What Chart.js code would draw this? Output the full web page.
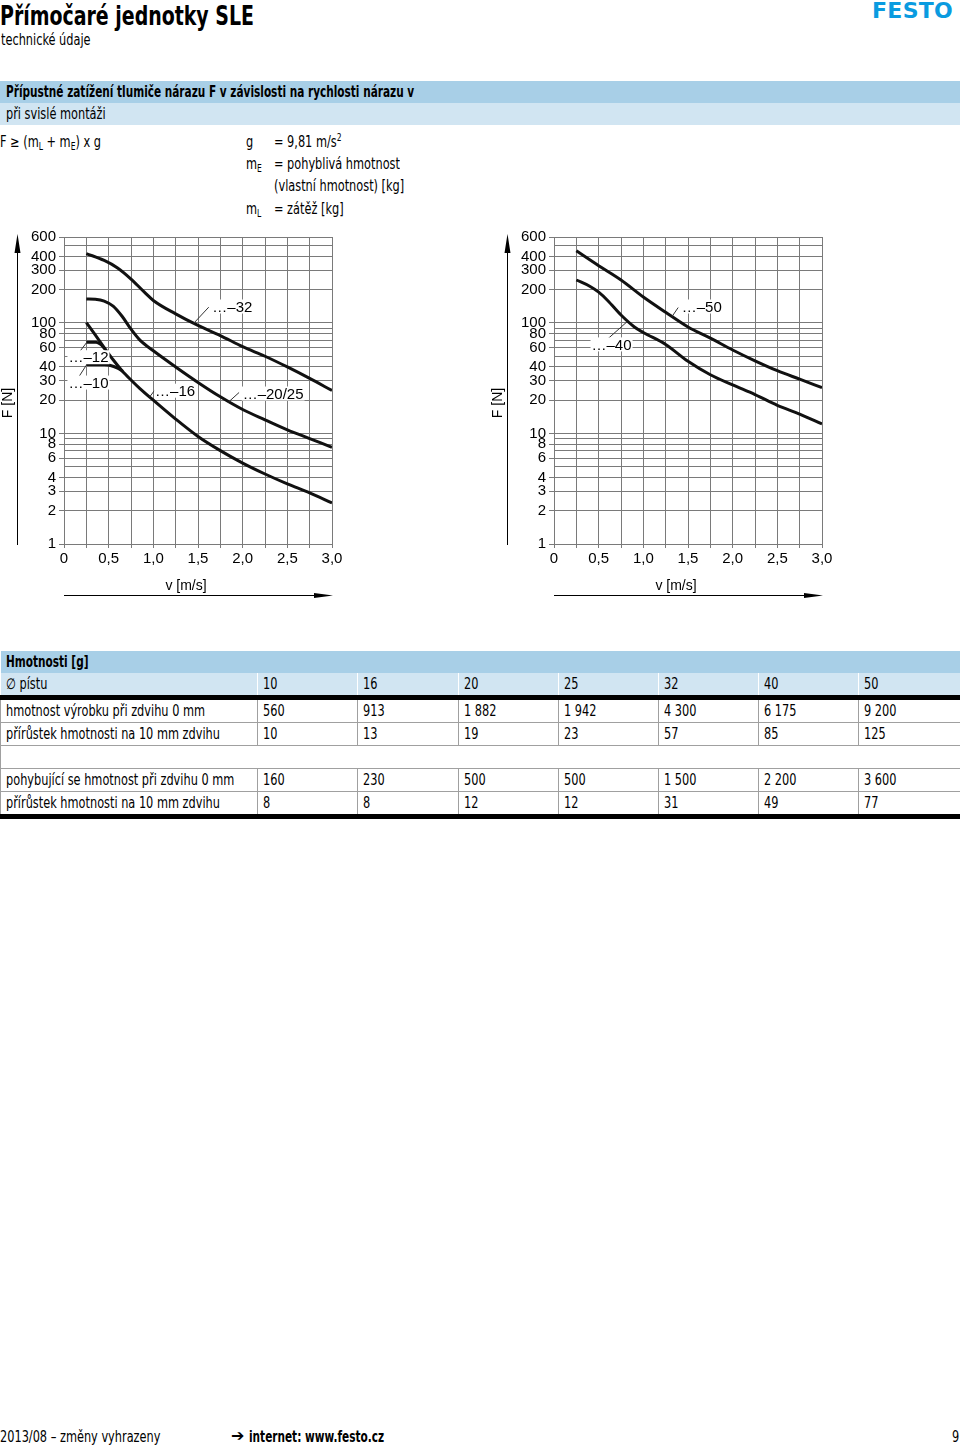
<!DOCTYPE html>
<html lang="cs">
<head>
<meta charset="utf-8">
<title>Přímočaré jednotky SLE</title>
<script src="https://cdn.jsdelivr.net/npm/chart.js@4"></script>
<style>
  html, body { margin: 0; padding: 0; background: #fff; }
  body {
    position: relative;
    width: 960px;
    height: 1447px;
    overflow: hidden;
    font-family: "DejaVu Sans Condensed", "DejaVu Sans", sans-serif;
    color: #000;
  }
  .abs { position: absolute; white-space: nowrap; }
  /* the original face is a condensed one, so squeeze the text horizontally */
  .cond { display: inline-block; transform: scaleX(0.84); transform-origin: 0 50%; white-space: nowrap; }
  .condb { display: inline-block; transform: scaleX(0.78); transform-origin: 0 50%; white-space: nowrap; }
  .title { left: 0; top: 0; font-size: 27px; font-weight: bold; }
  .subtitle { left: 1px; top: 31px; font-size: 15px; }
  .logo {
    left: 872px; top: -2px; font-family: "DejaVu Sans", sans-serif;
    font-size: 22px; font-weight: bold; color: #0a9be0; letter-spacing: 0.3px;
  }
  .bar { left: 0; width: 960px; height: 22px; line-height: 22px; padding-left: 6px; box-sizing: border-box; font-size: 15px; }
  .bar.dark { background: #a8cfe7; font-weight: bold; }
  .bar.light { background: #d1e5f2; }
  .txt { font-size: 15px; line-height: 22px; }
  sub { font-size: 10px; vertical-align: -3px; line-height: 0; }
  sup { font-size: 10px; vertical-align: 6px; line-height: 0; }
  .chartbox { position: absolute; top: 225px; width: 350px; height: 385px; }
  table.mass {
    position: absolute; left: 0; top: 651px; width: 960px;
    border-collapse: collapse; table-layout: fixed; font-size: 15px;
  }
  table.mass td {
    height: 22px; padding: 0 0 0 5px; line-height: 21px;
    border-left: 1px solid #a0a0a0; border-bottom: 1px solid #a0a0a0;
    white-space: nowrap; overflow: hidden;
  }
  table.mass tr.head td { background: #a8cfe7; font-weight: bold; border-left: none; border-bottom: none; }
  table.mass tr.dia td { background: #d1e5f2; border-bottom: 5px solid #000; border-left: 1px solid #fff; }
  table.mass tr.last td { border-bottom: 5px solid #000; }
  table.mass td:first-child { border-left: 1px solid #a0a0a0; }
  .foot { top: 1428px; font-size: 15px; }
  .arrow { top: 1426px; left: 231px; font-family: "DejaVu Sans", sans-serif; font-size: 16px; font-weight: bold; }
</style>
</head>
<body>

<div class="abs title"><span class="condb">Přímočaré jednotky SLE</span></div>
<div class="abs subtitle"><span class="cond">technické údaje</span></div>
<div class="abs logo">FESTO</div>

<div class="abs bar dark" style="top:81px;"><span class="condb">Přípustné zatížení tlumiče nárazu F v závislosti na rychlosti nárazu v</span></div>
<div class="abs bar light" style="top:103px;"><span class="cond">při svislé montáži</span></div>

<div class="abs txt" style="left:0; top:131px;"><span class="cond">F ≥ (m<sub>L</sub> + m<sub>E</sub>) x g</span></div>
<div class="abs txt" style="left:246px; top:131px;"><span class="cond">g</span></div>
<div class="abs txt" style="left:274px; top:131px;"><span class="cond">= 9,81 m/s<sup>2</sup></span></div>
<div class="abs txt" style="left:246px; top:153px;"><span class="cond">m<sub>E</sub></span></div>
<div class="abs txt" style="left:274px; top:153px;"><span class="cond">= pohyblivá hmotnost</span></div>
<div class="abs txt" style="left:274px; top:175px;"><span class="cond">(vlastní hmotnost) [kg]</span></div>
<div class="abs txt" style="left:246px; top:198px;"><span class="cond">m<sub>L</sub></span></div>
<div class="abs txt" style="left:274px; top:198px;"><span class="cond">= zátěž [kg]</span></div>

<div class="chartbox" style="left:0;"><canvas id="chartLeft" width="350" height="385"></canvas></div>
<div class="chartbox" style="left:490px;"><canvas id="chartRight" width="350" height="385"></canvas></div>

<table class="mass" id="massTable">
  <colgroup>
    <col style="width:257px"><col style="width:100px"><col style="width:101px"><col style="width:100px">
    <col style="width:100px"><col style="width:100px"><col style="width:100px"><col style="width:102px">
  </colgroup>
  <tbody></tbody>
</table>

<div class="abs foot" style="left:0;"><span class="cond">2013/08 – změny vyhrazeny</span></div>
<div class="abs arrow">➔</div>
<div class="abs foot" style="left:249px; font-weight:bold;"><span class="condb">internet: www.festo.cz</span></div>
<div class="abs foot" style="left:952px;"><span class="cond">9</span></div>

<script>
// --- chart data: v [m/s] and F [N] per piston size ---
const v10 = [0.25, 0.45, 0.53, 0.60, 0.66];
const f10 = [42, 42, 41, 39, 36.5];
const v12 = [0.25, 0.36, 0.41, 0.46];
const f12 = [67, 67, 64, 58];
const v16 = [0.25, 0.35, 0.45, 0.55, 0.65, 0.75, 0.85, 1.0, 1.25, 1.5, 1.75, 2.0, 2.25, 2.5, 2.75, 3.0];
const f16 = [101, 78, 60, 46.5, 37, 30.5, 25.5, 20, 13.5, 9.4, 7.0, 5.4, 4.3, 3.5, 2.9, 2.35];
const v2025 = [0.25, 0.35, 0.45, 0.55, 0.65, 0.75, 0.85, 1.0, 1.25, 1.5, 1.75, 2.0, 2.25, 2.5, 2.75, 3.0];
const f2025 = [165, 164, 158, 142, 115, 88, 70, 56, 40, 29, 21.5, 16.5, 13.3, 10.8, 9.0, 7.5];
const v32 = [0.25, 0.45, 0.6, 0.75, 0.9, 1.0, 1.25, 1.5, 1.75, 2.0, 2.25, 2.5, 2.75, 3.0];
const f32 = [425, 368, 315, 250, 190, 160, 121, 95, 77, 61, 50, 40, 31.5, 24.5];
const v40 = [0.25, 0.4, 0.5, 0.6, 0.75, 0.9, 1.0, 1.25, 1.5, 1.75, 2.0, 2.25, 2.5, 2.75, 3.0];
const f40 = [245, 215, 190, 160, 118, 92, 82, 64, 45, 34, 27.5, 22.5, 18, 15, 12.2];
const v50 = [0.25, 0.5, 0.75, 1.0, 1.25, 1.5, 1.75, 2.0, 2.25, 2.5, 2.75, 3.0];
const f50 = [450, 330, 245, 172, 125, 92, 73, 57, 45.5, 37, 31, 26];

// axis ticks
const xGrid = [0, 0.25, 0.5, 0.75, 1.0, 1.25, 1.5, 1.75, 2.0, 2.25, 2.5, 2.75, 3.0];
const xLabelValues = [0, 0.5, 1.0, 1.5, 2.0, 2.5, 3.0];
const xLabelTexts = ['0', '0,5', '1,0', '1,5', '2,0', '2,5', '3,0'];
const yGrid = [1, 2, 3, 4, 5, 6, 7, 8, 9, 10, 20, 30, 40, 50, 60, 70, 80, 90, 100, 200, 300, 400, 500, 600];
const yLabels = [1, 2, 3, 4, 6, 8, 10, 20, 30, 40, 60, 80, 100, 200, 300, 400, 600];

// curve tags with leader lines (in data units)
const leftTags = [
  { text: '…–32', x: 1.66, y: 141, from: [1.45, 99], to: [1.62, 139] },
  { text: '…–12', x: 0.05, y: 49, from: [0.25, 66], to: [0.16, 53] },
  { text: '…–10', x: 0.05, y: 28.9, from: [0.25, 41.5], to: [0.16, 32] },
  { text: '…–16', x: 1.02, y: 24.4, from: [0.96, 21.5], to: [1.03, 25.5] },
  { text: '…–20/25', x: 2.0, y: 23, from: [1.84, 19.2], to: [1.96, 23.5] }
];
const rightTags = [
  { text: '…–50', x: 1.43, y: 141, from: [1.32, 114], to: [1.39, 138] },
  { text: '…–40', x: 0.42, y: 64, from: [0.82, 103], to: [0.56, 67] }
];

// table of masses [g]
const diameters = ['10', '16', '20', '25', '32', '40', '50'];
const productMass = ['560', '913', '1 882', '1 942', '4 300', '6 175', '9 200'];
const productMassPer10 = ['10', '13', '19', '23', '57', '85', '125'];
const movingMass = ['160', '230', '500', '500', '1 500', '2 200', '3 600'];
const movingMassPer10 = ['8', '8', '12', '12', '31', '49', '77'];

const CHART_FONT = '"Liberation Sans", Arial, sans-serif';

document.addEventListener('DOMContentLoaded', function() {
  buildMassTable();

  initForceChart('chartLeft', [
    [v32, f32], [v2025, f2025], [v16, f16], [v12, f12], [v10, f10]
  ], leftTags);

  initForceChart('chartRight', [
    [v50, f50], [v40, f40]
  ], rightTags);
});

function toPoints(xs, ys) {
  return xs.map((x, i) => ({ x: x, y: ys[i] }));
}

// axis arrows, axis titles and curve tags
const decorPlugin = {
  id: 'decor',
  afterDatasetsDraw(chart, args, opts) {
    const ctx = chart.ctx;
    const area = chart.chartArea;
    const xs = chart.scales.x;
    const ys = chart.scales.y;
    ctx.save();

    // vertical arrow
    const ax = area.left - 47;
    ctx.strokeStyle = '#000';
    ctx.fillStyle = '#000';
    ctx.lineWidth = 1;
    ctx.beginPath();
    ctx.moveTo(ax + 0.5, area.bottom + 1);
    ctx.lineTo(ax + 0.5, area.top + 14);
    ctx.stroke();
    ctx.beginPath();
    ctx.moveTo(ax + 0.5, area.top - 3);
    ctx.lineTo(ax - 2.5, area.top + 16);
    ctx.lineTo(ax + 3.5, area.top + 16);
    ctx.closePath();
    ctx.fill();

    // horizontal arrow
    const ay = area.bottom + 51;
    ctx.beginPath();
    ctx.moveTo(area.left, ay + 0.5);
    ctx.lineTo(area.right - 16, ay + 0.5);
    ctx.stroke();
    ctx.beginPath();
    ctx.moveTo(area.right + 1, ay + 0.5);
    ctx.lineTo(area.right - 18, ay - 2);
    ctx.lineTo(area.right - 18, ay + 3);
    ctx.closePath();
    ctx.fill();

    // axis titles
    ctx.font = '14px ' + CHART_FONT;
    ctx.textAlign = 'center';
    ctx.textBaseline = 'middle';
    ctx.fillText('v [m/s]', (area.left + area.right) / 2 - 12, area.bottom + 42);
    ctx.save();
    ctx.translate(area.left - 56, area.top + 166);
    ctx.rotate(-Math.PI / 2);
    ctx.fillText('F [N]', 0, 0);
    ctx.restore();

    // tags
    ctx.textAlign = 'left';
    ctx.font = '15px ' + CHART_FONT;
    (opts.tags || []).forEach(tag => {
      ctx.strokeStyle = '#333';
      ctx.lineWidth = 1;
      ctx.beginPath();
      ctx.moveTo(xs.getPixelForValue(tag.from[0]), ys.getPixelForValue(tag.from[1]));
      ctx.lineTo(xs.getPixelForValue(tag.to[0]), ys.getPixelForValue(tag.to[1]));
      ctx.stroke();

      const tx = xs.getPixelForValue(tag.x);
      const ty = ys.getPixelForValue(tag.y);
      const w = ctx.measureText(tag.text).width;
      ctx.fillStyle = '#fff';
      ctx.fillRect(tx - 1, ty - 7, w + 2, 14);
      ctx.fillStyle = '#000';
      ctx.fillText(tag.text, tx, ty + 1);
    });

    ctx.restore();
  }
};

function initForceChart(canvasId, curves, tags) {
  const ctx = document.getElementById(canvasId).getContext('2d');

  new Chart(ctx, {
    type: 'scatter',
    data: {
      datasets: curves.map(c => ({
        data: toPoints(c[0], c[1]),
        showLine: true,
        borderColor: '#111',
        borderWidth: 3,
        pointRadius: 0,
        cubicInterpolationMode: 'monotone',
        fill: false
      }))
    },
    options: {
      responsive: false,
      animation: false,
      devicePixelRatio: 1,
      layout: { padding: { top: 10, right: 18, left: 0, bottom: 0 } },
      plugins: {
        legend: { display: false },
        tooltip: { enabled: false },
        decor: { tags: tags }
      },
      scales: {
        x: {
          type: 'linear',
          min: 0,
          max: 3,
          afterFit: scale => { scale.height = 66; },
          afterBuildTicks: scale => { scale.ticks = xGrid.map(v => ({ value: v })); },
          grid: { color: '#7a7a7a', lineWidth: 1, tickLength: 4, tickColor: '#7a7a7a' },
          border: { display: true, color: '#7a7a7a' },
          ticks: {
            autoSkip: false,
            maxRotation: 0,
            padding: 2,
            color: '#000',
            font: { family: CHART_FONT, size: 15 },
            callback: value => {
              const i = xLabelValues.findIndex(v => Math.abs(v - value) < 1e-6);
              return i >= 0 ? xLabelTexts[i] : '';
            }
          }
        },
        y: {
          type: 'logarithmic',
          min: 1,
          max: 600,
          afterFit: scale => { scale.width = 64; },
          afterBuildTicks: scale => { scale.ticks = yGrid.map(v => ({ value: v })); },
          grid: {
            color: '#7a7a7a',
            lineWidth: 1,
            tickLength: 5,
            tickColor: c => (c.tick && yLabels.includes(c.tick.value)) ? '#7a7a7a' : 'rgba(0,0,0,0)'
          },
          border: { display: true, color: '#7a7a7a' },
          ticks: {
            autoSkip: false,
            padding: 3,
            color: '#000',
            font: { family: CHART_FONT, size: 15 },
            callback: value => yLabels.includes(value) ? String(value) : ''
          }
        }
      }
    },
    plugins: [decorPlugin]
  });
}

function buildMassTable() {
  const body = document.querySelector('#massTable tbody');
  const rows = [
    { cls: 'head', label: 'Hmotnosti [g]', cells: null },
    { cls: 'dia', label: '∅ pístu', cells: diameters },
    { cls: '', label: 'hmotnost výrobku při zdvihu 0 mm', cells: productMass },
    { cls: '', label: 'přírůstek hmotnosti na 10 mm zdvihu', cells: productMassPer10 },
    { cls: '', label: '', cells: null },
    { cls: '', label: 'pohybující se hmotnost při zdvihu 0 mm', cells: movingMass },
    { cls: 'last', label: 'přírůstek hmotnosti na 10 mm zdvihu', cells: movingMassPer10 }
  ];

  rows.forEach(r => {
    const tr = document.createElement('tr');
    if (r.cls) tr.className = r.cls;
    const first = document.createElement('td');
    first.innerHTML = '<span class="' + (r.cls === 'head' ? 'condb' : 'cond') + '">' + r.label + '</span>';
    tr.appendChild(first);
    if (!r.cells) {
      first.colSpan = 8;
    } else {
      r.cells.forEach(c => {
        const td = document.createElement('td');
        td.innerHTML = '<span class="cond">' + c + '</span>';
        tr.appendChild(td);
      });
    }
    body.appendChild(tr);
  });
}
</script>
</body>
</html>
